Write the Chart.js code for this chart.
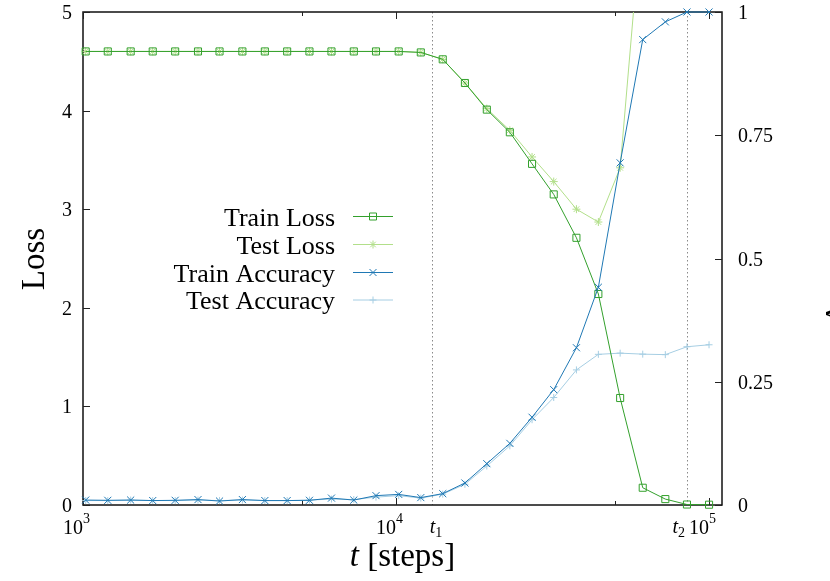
<!DOCTYPE html>
<html>
<head>
<meta charset="utf-8">
<script src="https://cdn.jsdelivr.net/npm/chart.js@4/dist/chart.umd.min.js"></script>
<style>
html,body{margin:0;padding:0;background:#fff;}
#wrap{width:830px;height:581px;}
</style>
</head>
<body>
<div id="wrap"><canvas id="c" width="830" height="581"></canvas></div>
<script>
// ---- data ----
const steps = [1020, 1200, 1420, 1670, 1970, 2330, 2730, 3230, 3810, 4490, 5290, 6220, 7330, 8630,
  10200, 12000, 14100, 16600, 19500, 23100, 27200, 31900, 37700, 44300, 52000, 61400, 72500, 85000, 100000];
const trainLoss = [4.60, 4.60, 4.60, 4.60, 4.60, 4.60, 4.60, 4.60, 4.60, 4.60, 4.60, 4.60, 4.60, 4.60, 4.60,
  4.59, 4.52, 4.28, 4.01, 3.78, 3.46, 3.15, 2.71, 2.14, 1.085, 0.175, 0.06, 0.005, 0.003];
const testLoss = [4.60, 4.60, 4.60, 4.60, 4.60, 4.60, 4.60, 4.60, 4.60, 4.60, 4.60, 4.60, 4.60, 4.60, 4.60,
  4.59, 4.52, 4.28, 4.02, 3.80, 3.53, 3.28, 3.00, 2.87, 3.42, 6.1, 7.0, 7.6, 7.9];
const trainAcc = [0.010, 0.0095, 0.010, 0.009, 0.0095, 0.011, 0.008, 0.011, 0.009, 0.009, 0.0095, 0.014, 0.010, 0.019, 0.0215,
  0.015, 0.023, 0.0446, 0.0838, 0.125, 0.178, 0.234, 0.319, 0.4416, 0.694, 0.944, 0.980, 1.0, 1.0];
const testAcc = [0.009, 0.009, 0.010, 0.009, 0.009, 0.010, 0.009, 0.010, 0.009, 0.009, 0.010, 0.012, 0.011, 0.016, 0.019,
  0.014, 0.022, 0.042, 0.079, 0.120, 0.173, 0.218, 0.274, 0.3056, 0.308, 0.306, 0.305, 0.321, 0.325];

const seriesNames = ['Train Loss', 'Test Loss', 'Train Accuracy', 'Test Accuracy'];
const xMajorTicks = [1000, 10000, 100000];
const xMajorExp = ['3', '4', '5'];
const xMinorTicks = [5000, 50000];
const tMarks = [13000, 85000];
const tMarkLabels = ['1', '2'];
const yTicks = [0, 1, 2, 3, 4, 5];
const y2Ticks = [0, 0.25, 0.5, 0.75, 1];
const y2TickLabels = ['0', '0.25', '0.5', '0.75', '1'];
const xTitleItalic = 't';
const xTitleRest = ' [steps]';
const yTitle = 'Loss';
const y2Title = 'Accuracy';

const COL = {
  trainLoss: '#33a02c',
  testLoss: '#b2df8a',
  trainAcc: '#1f78b4',
  testAcc: '#a6cee3'
};
const SERIF = '"Liberation Serif", "DejaVu Serif", serif';

function pts(arr) { return steps.map((s, i) => ({ x: s, y: arr[i] })); }

const drawPlugin = {
  id: 'gp',
  beforeDatasetsDraw(chart) {
    const ctx = chart.ctx, a = chart.chartArea, xs = chart.scales.x;
    ctx.save();
    ctx.strokeStyle = '#8a8a8a';
    ctx.lineWidth = 1;
    ctx.setLineDash([1.5, 2.5]);
    tMarks.forEach(v => {
      const px = Math.round(xs.getPixelForValue(v)) + 0.5;
      ctx.beginPath(); ctx.moveTo(px, a.top); ctx.lineTo(px, a.bottom); ctx.stroke();
    });
    ctx.setLineDash([]);
    ctx.strokeStyle = '#111';
    ctx.lineWidth = 1.5;
    ctx.strokeRect(a.left, a.top, a.right - a.left, a.bottom - a.top);
    ctx.lineWidth = 1;
    ctx.strokeStyle = '#222';
    const ys = chart.scales.y, y2s = chart.scales.y2;
    yTicks.forEach(v => {
      const py = Math.round(ys.getPixelForValue(v)) + 0.5;
      ctx.beginPath(); ctx.moveTo(a.left, py); ctx.lineTo(a.left + 7, py); ctx.stroke();
    });
    y2Ticks.forEach(v => {
      const py = Math.round(y2s.getPixelForValue(v)) + 0.5;
      ctx.beginPath(); ctx.moveTo(a.right, py); ctx.lineTo(a.right - 7, py); ctx.stroke();
    });
    xMajorTicks.forEach(v => {
      const px = Math.round(xs.getPixelForValue(v)) + 0.5;
      ctx.beginPath(); ctx.moveTo(px, a.bottom); ctx.lineTo(px, a.bottom - 7);
      ctx.moveTo(px, a.top); ctx.lineTo(px, a.top + 7); ctx.stroke();
    });
    xMinorTicks.forEach(v => {
      const px = Math.round(xs.getPixelForValue(v)) + 0.5;
      ctx.beginPath(); ctx.moveTo(px, a.bottom); ctx.lineTo(px, a.bottom - 4);
      ctx.moveTo(px, a.top); ctx.lineTo(px, a.top + 4); ctx.stroke();
    });
    ctx.restore();
  },
  afterDraw(chart) {
    const ctx = chart.ctx, a = chart.chartArea;
    const xs = chart.scales.x, ys = chart.scales.y, y2s = chart.scales.y2;
    ctx.save();
    ctx.fillStyle = '#000';
    ctx.textBaseline = 'alphabetic';
    ctx.font = '20px ' + SERIF;
    ctx.textAlign = 'right';
    yTicks.forEach(v => {
      ctx.fillText(String(v), a.left - 11, ys.getPixelForValue(v) + 7);
    });
    ctx.textAlign = 'left';
    y2Ticks.forEach((v, i) => {
      ctx.fillText(y2TickLabels[i], a.right + 16, y2s.getPixelForValue(v) + 7);
    });
    xMajorTicks.forEach((v, i) => {
      const px = xs.getPixelForValue(v);
      ctx.font = '20px ' + SERIF;
      ctx.textAlign = 'right';
      ctx.fillText('10', px, a.bottom + 29);
      ctx.font = '14px ' + SERIF;
      ctx.textAlign = 'left';
      ctx.fillText(xMajorExp[i], px, a.bottom + 18);
    });
    tMarks.forEach((v, i) => {
      const px = xs.getPixelForValue(v);
      ctx.font = 'italic 20px ' + SERIF;
      const wt = ctx.measureText('t').width;
      ctx.font = '14px ' + SERIF;
      const ws = ctx.measureText(tMarkLabels[i]).width;
      const x0 = i === 0 ? px - 2 : px - 2 - wt - ws;
      ctx.textAlign = 'left';
      ctx.font = 'italic 20px ' + SERIF;
      ctx.fillText('t', x0, a.bottom + 28);
      ctx.font = '14px ' + SERIF;
      ctx.fillText(tMarkLabels[i], x0 + wt, a.bottom + 32);
    });
    ctx.font = 'italic 33px ' + SERIF;
    const w1 = ctx.measureText(xTitleItalic).width;
    ctx.font = '33px ' + SERIF;
    const w2 = ctx.measureText(xTitleRest).width;
    const cx = (a.left + a.right) / 2;
    const sx = cx - (w1 + w2) / 2;
    ctx.textAlign = 'left';
    ctx.font = 'italic 33px ' + SERIF;
    ctx.fillText(xTitleItalic, sx, 566);
    ctx.font = '33px ' + SERIF;
    ctx.fillText(xTitleRest, sx + w1, 566);
    ctx.save();
    ctx.translate(44, 259);
    ctx.rotate(-Math.PI / 2);
    ctx.textAlign = 'center';
    ctx.fillText(yTitle, 0, 0);
    ctx.restore();
    // y2 title sits mostly outside the canvas, as in the reference
    ctx.save();
    ctx.translate(848, 262);
    ctx.rotate(-Math.PI / 2);
    ctx.textAlign = 'center';
    ctx.fillText(y2Title, 0, 0);
    ctx.restore();

    const rows = [216, 244, 272, 299.5];
    const cols = [COL.trainLoss, COL.testLoss, COL.trainAcc, COL.testAcc];
    ctx.font = '26px ' + SERIF;
    ctx.textAlign = 'right';
    rows.forEach((ry, i) => {
      ctx.fillStyle = '#000';
      ctx.fillText(seriesNames[i], 335, ry + 9.5);
      ctx.strokeStyle = cols[i];
      ctx.lineWidth = 1;
      ctx.beginPath(); ctx.moveTo(353, ry + 0.5); ctx.lineTo(393, ry + 0.5); ctx.stroke();
      const mx = 373, my = ry + 0.5;
      ctx.beginPath();
      if (i === 0) {
        ctx.rect(mx - 3.5, my - 3.5, 7, 7);
      } else if (i === 1) {
        ctx.moveTo(mx - 4, my); ctx.lineTo(mx + 4, my);
        ctx.moveTo(mx, my - 4); ctx.lineTo(mx, my + 4);
        ctx.moveTo(mx - 2.8, my - 2.8); ctx.lineTo(mx + 2.8, my + 2.8);
        ctx.moveTo(mx - 2.8, my + 2.8); ctx.lineTo(mx + 2.8, my - 2.8);
      } else if (i === 2) {
        ctx.moveTo(mx - 3.5, my - 3.5); ctx.lineTo(mx + 3.5, my + 3.5);
        ctx.moveTo(mx - 3.5, my + 3.5); ctx.lineTo(mx + 3.5, my - 3.5);
      } else {
        ctx.moveTo(mx - 3.5, my); ctx.lineTo(mx + 3.5, my);
        ctx.moveTo(mx, my - 3.5); ctx.lineTo(mx, my + 3.5);
      }
      ctx.stroke();
    });
    ctx.restore();
  }
};

const common = { borderWidth: 1, tension: 0, pointBorderWidth: 1, pointBackgroundColor: 'rgba(0,0,0,0)', fill: false };

new Chart(document.getElementById('c'), {
  type: 'line',
  data: {
    datasets: [
      Object.assign({}, common, { label: seriesNames[0], data: pts(trainLoss), yAxisID: 'y', borderColor: COL.trainLoss,
        pointBorderColor: COL.trainLoss, pointStyle: 'rect', pointRadius: 5, clip: false, order: 2 }),
      Object.assign({}, common, { label: seriesNames[1], data: pts(testLoss), yAxisID: 'y', borderColor: COL.testLoss,
        pointBorderColor: COL.testLoss, pointStyle: 'star', pointRadius: 4, clip: { left: 10, right: 10, top: 0, bottom: 10 }, order: 3 }),
      Object.assign({}, common, { label: seriesNames[2], data: pts(trainAcc), yAxisID: 'y2', borderColor: COL.trainAcc,
        pointBorderColor: COL.trainAcc, pointStyle: 'crossRot', pointRadius: 5, clip: false, order: 1 }),
      Object.assign({}, common, { label: seriesNames[3], data: pts(testAcc), yAxisID: 'y2', borderColor: COL.testAcc,
        pointBorderColor: COL.testAcc, pointStyle: 'cross', pointRadius: 3.5, clip: false, order: 4 })
    ]
  },
  options: {
    responsive: false,
    animation: false,
    events: [],
    layout: { padding: { left: 83, right: 108, top: 12, bottom: 76 } },
    plugins: { legend: { display: false }, tooltip: { enabled: false } },
    scales: {
      x: { type: 'logarithmic', min: 1000, max: 110000, display: false },
      y: { type: 'linear', position: 'left', min: 0, max: 5, display: false },
      y2: { type: 'linear', position: 'right', min: 0, max: 1, display: false }
    }
  },
  plugins: [drawPlugin]
});
</script>
</body>
</html>
